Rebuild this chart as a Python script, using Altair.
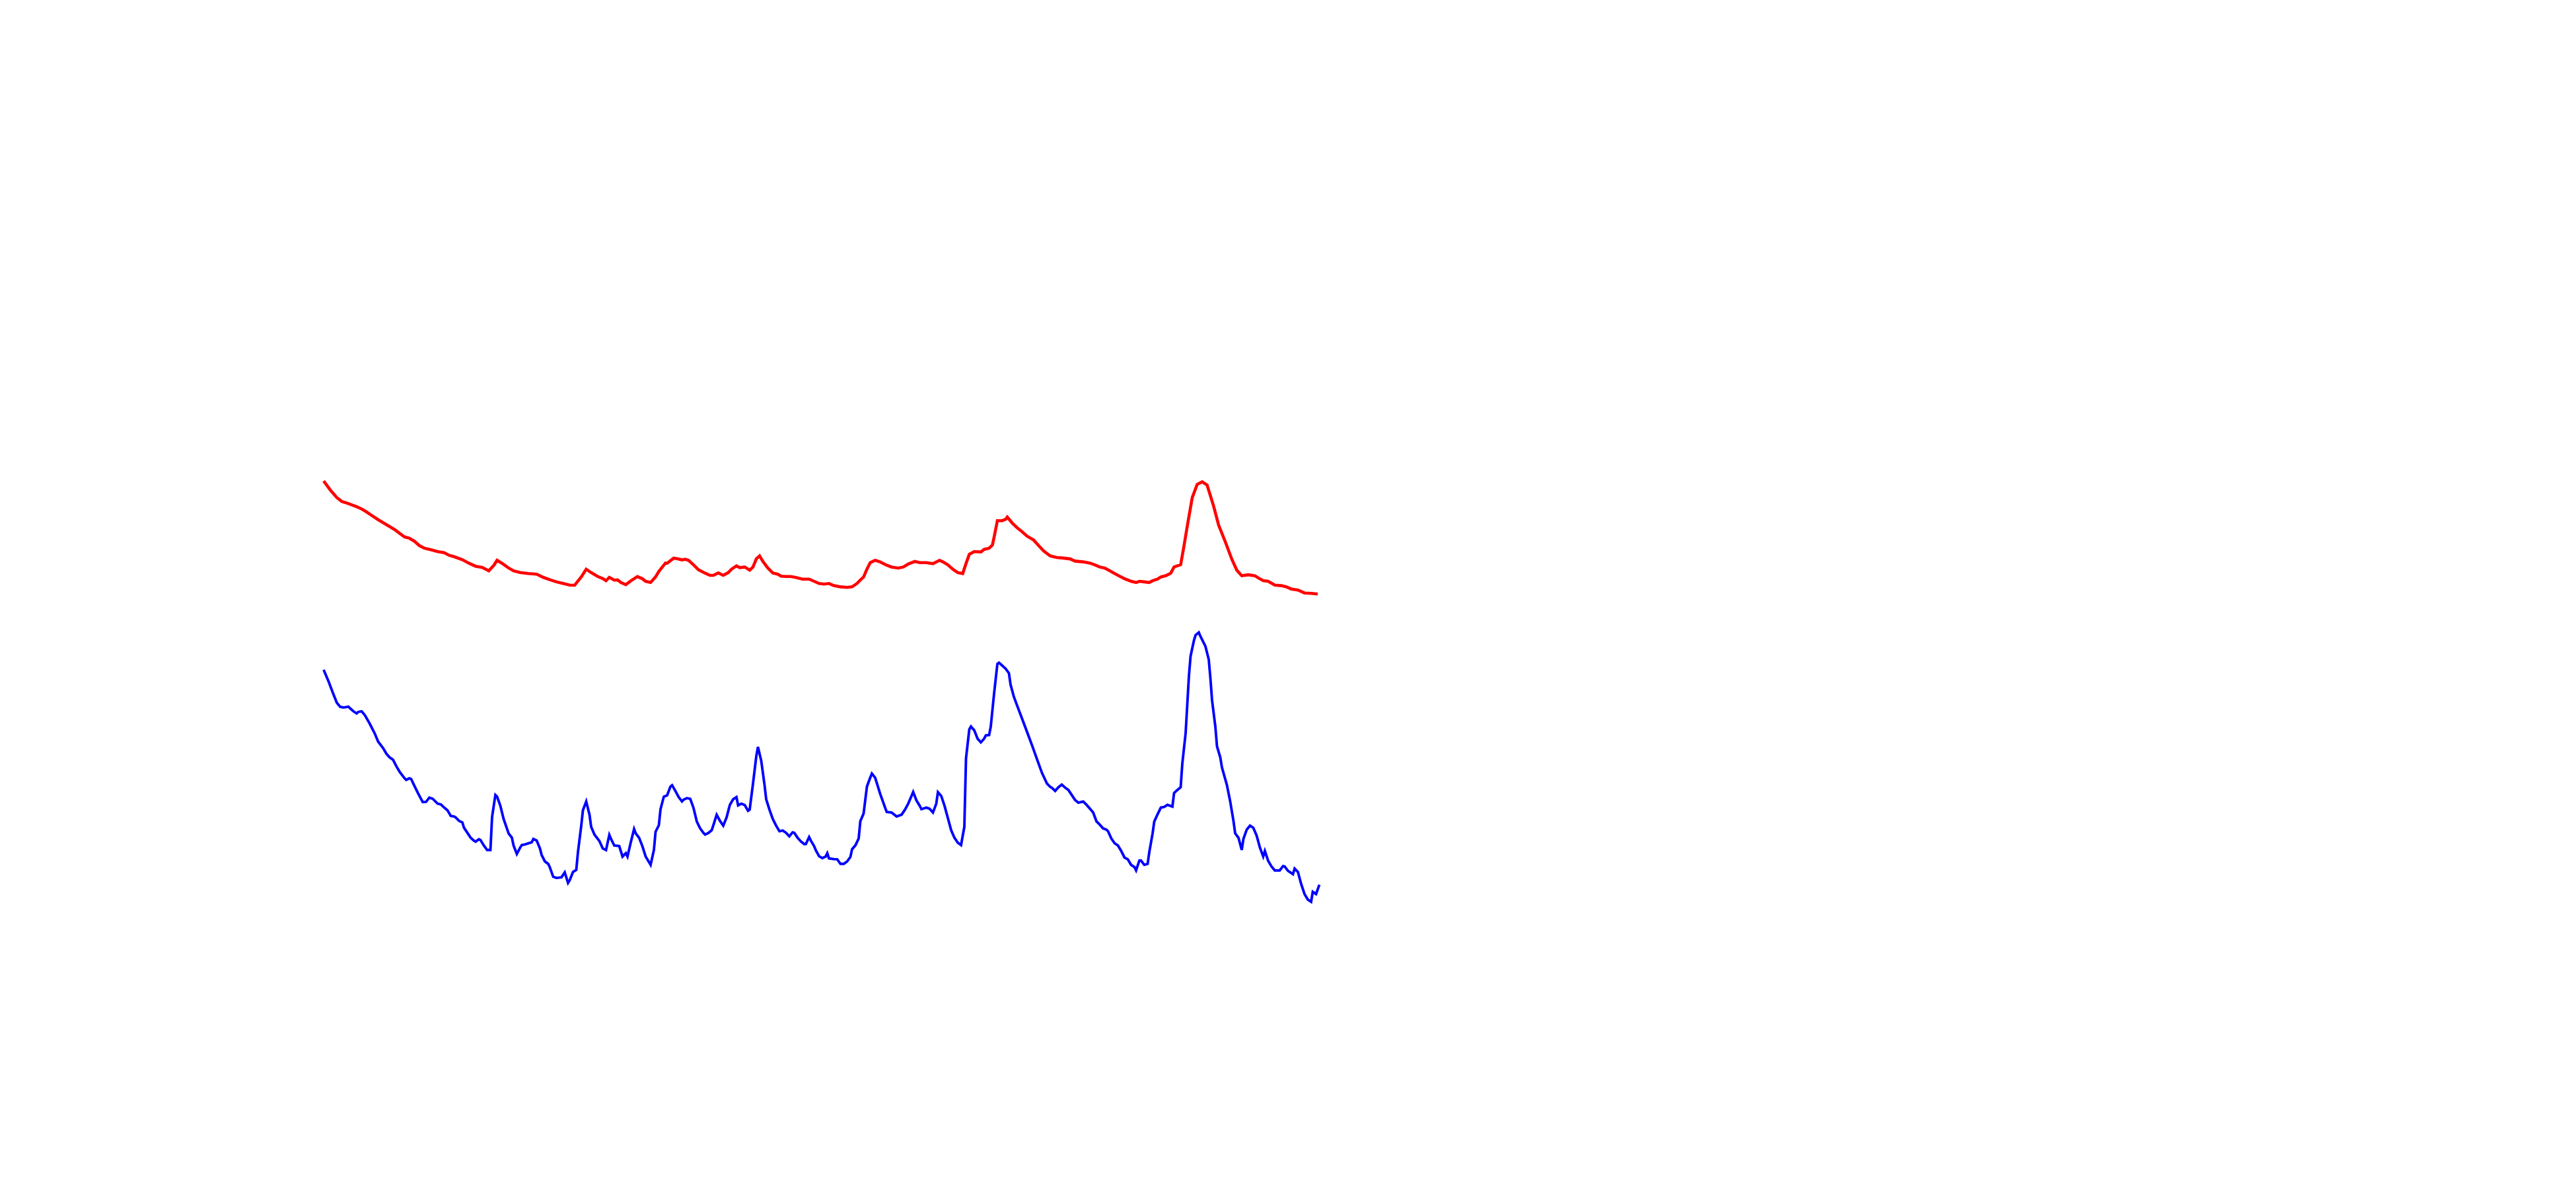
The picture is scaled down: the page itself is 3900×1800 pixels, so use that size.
import altair as alt
import pandas as pd

# time index (steps) and values
red_t = [0,4,8,11,15,20,23,26,29,33,37,40,43,46,49,52,55,58,61,65,69,73,76,79,84,88,92,96,100,103,105,108,112,115,119,124,129,133,137,141,145,149,152,156,159,162,166,169,171,173,176,178,180,183,186,190,193,195,198,201,203,207,208,212,214,217,219,221,224,227,231,234,236,239,242,245,247,250,252,255,258,260,262,
         264,266,269,272,275,277,280,283,286,290,294,297,300,303,306,309,313,317,320,323,325,327,329,331,334,337,341,344,348,351,354,358,361,365,369,373,375,378,381,384,387,389,391,394,398,400,403,405,406,408,411,413,414,417,420,423,426,430,433,436,440,444,448,452,455,460,464,467,470,473,476,479,482,485,489,492,494,497,500,502,505,507,510,
         513,515,519,521,523,526,529,532,535,539,542,546,550,553,556,560,564,566,569,572,576,580,583,586,590,594,598,602]
red_v = [230.6,226.1,222.2,220.3,219.2,217.6,216.5,215,213.3,211.1,209.1,207.6,206.1,204.2,202.4,201.7,200.2,198,196.7,195.9,195,194.4,193.1,192.4,190.9,189.1,187.6,187,185.3,188,190.6,189.1,186.7,185.3,184.4,183.9,183.6,182,180.8,179.7,178.9,178.1,178,182.2,186.1,184.4,182.4,181.4,180.3,182,180.6,180.7,179.4,178.3,180.2,182.4,181.3,180,179.4,182.2,185,189.2,189.1,191.7,191.4,190.8,191.1,190.6,188.3,185.8,184.1,183,183,184.2,183,184.4,186.1,187.8,186.9,187.2,185.6,187.2,191.3,
         192.8,190,186.7,184.2,183.6,182.6,182.4,182.4,181.9,181.1,181.1,180,178.9,178.6,178.9,177.8,177.2,176.9,177.2,178.9,180.6,182.2,186.1,189.4,190.6,189.8,188.1,187.2,186.7,187.2,188.7,190,189.4,189.4,188.9,190.6,189.8,188.3,186.1,184.4,183.9,188.9,193.6,195,194.8,196.1,196.7,198.3,202.2,210.6,210.6,211.3,212.4,209.4,207,205,202.8,200.8,198,195.3,192.8,192,191.7,191.3,190.2,189.8,189.2,188.3,187.2,186.7,185.3,183.9,182.6,181.3,180,179.4,180,179.7,179.4,180.3,181.1,182.2,182.8,
         184.1,187.2,188.4,197.8,207.8,222.2,228.9,230.2,228.6,217.8,208.3,200,191.1,185.6,182.8,183.3,182.8,181.7,180.3,180,178.1,177.8,177.2,176.1,175.6,174.1,173.9,173.6]

blue_t = [0,3,6,8,10,12,15,16,18,20,21,23,25,28,31,33,36,38,40,42,44,46,49,50,52,53,55,57,58,60,62,64,66,69,71,73,75,77,79,80,82,84,85,87,89,91,92,94,95,97,99,101,102,104,105,107,109,111,112,114,115,117,119,120,122,124,126,127,129,131,132,134,136,137,139,141,144,146,148,149,151,153,154,156,157,159,161,162,164,167,169,171,173,174,176,179,181,183,184,186,188,189,191,193,195,197,198,200,201,203,204,206,208,210,211,213,215,217,218,220,222,224,226,228,230,231,233,235,236,238,240,242,244,246,248,250,251,253,255,257,258,260,262,263,265,267,268,270,272,274,276,278,280,282,284,285,287,289,291,292,294,295,
          297,298,300,302,304,305,306,309,311,313,315,317,319,320,322,324,325,327,329,331,332,334,337,340,341,344,347,350,352,354,356,357,359,361,362,365,367,369,371,372,374,376,378,380,382,384,386,388,389,391,392,394,396,398,400,401,403,404,406,408,409,411,413,415,416,418,420,423,426,429,432,435,438,440,441,443,445,447,449,451,453,455,457,460,462,464,466,468,470,472,474,475,477,479,481,483,485,487,489,491,492,494,495,497,499,500,502,503,505,507,509,511,514,515,517,519,
          520,522,523,524,525,527,528,530,531,534,536,537,538,540,541,543,544,547,549,551,552,554,556,557,559,561,563,565,567,569,570,572,574,576,579,581,582,584,587,588,590,592,594,596,598,599,601,603]
blue_v = [135.3,129.4,122.8,118.7,116.7,116.3,116.7,115.9,114.4,113.3,114.1,114.4,112.4,108,103.1,99.1,95.8,93,91.1,90,86.7,83.9,80.6,79.8,80.6,80.2,76.7,73.3,71.7,68.6,68.7,70.8,70.3,67.8,67.4,65.8,64.4,61.6,61.3,60.8,59.1,58.3,55.6,53.1,50.6,49.1,48.6,49.8,49.4,46.7,44.4,44.4,61.1,72.2,71.4,66.7,60,55.2,52.8,50.6,46.7,42.4,45.6,46.9,47.2,47.8,48.3,50,49.2,45.2,41.9,38.6,37.4,35.6,30.9,30.3,30.6,33.1,27.8,29.1,33.3,34.4,43.3,56.7,64.4,68.9,62.2,56.1,52.2,48.9,45.2,44.4,52,50,46.7,46.4,41.1,42.8,41.1,48.3,55,52.8,50.6,46.4,41.1,38.3,36.9,44.4,53.6,56.9,65,71.3,72,76.4,77.1,74.2,71.1,68.9,69.8,70.6,70.2,65.6,58.7,55.3,53,52.2,53,54.4,56.9,62.2,59.1,56.7,60.8,67.2,70,71.1,66.9,67.8,67.1,64.2,64.8,77.8,91.7,96.4,89.4,77.2,70,64.7,60,56.7,53.9,54.2,53.1,51.3,53.3,53.1,50.6,48.7,47.4,47.4,50.9,49.2,
          46.4,44.4,41.3,40.3,41.1,42.8,40.2,39.8,39.7,37.4,37.4,38.6,40.9,44.8,46.7,50.2,58.9,62.8,76.4,80.9,83,80.9,72.8,65.8,63.6,63.3,61.3,62.2,64.7,67.8,71.7,73.7,69.4,66.7,65,65.8,65.2,63.3,67.8,73.6,71.7,66.7,60.6,54.4,50.6,48.1,46.9,56.1,90.6,105.3,106.7,104.8,100.6,98.7,100.6,102.2,102.4,106.7,123.3,138.3,138.9,137.4,135.9,133.6,127.8,121.7,117.2,110.6,103.9,97.2,90.2,83.3,78,76.3,75.8,74.2,76.1,77.4,75.9,74.7,72.2,69.7,68.3,68.9,67.2,65.3,63.3,58.9,57.2,55.3,54.7,53.9,50.2,47.8,46.7,43.9,40.6,39.7,36.9,35.8,34.1,39.1,39.1,36.9,37.4,43.3,52.8,58.7,62.4,65.8,66.1,67.2,66.3,73.1,74.7,76.1,
          88,103.3,117.8,132.2,142.2,150,152.8,154.2,152.2,147.2,140.6,131.1,120,106.7,96.7,91.1,86.1,77.2,68.9,58.9,52.8,50.6,44.4,50,54.7,56.7,55.6,51.7,45.6,41.1,43.9,38.9,36.1,34.1,34.1,36.3,36.1,33.9,32.2,35,33.3,27.2,22.2,19.4,18.3,23.3,22.2,26.9]

red_df = pd.DataFrame({"t": red_t, "v": red_v})
blue_df = pd.DataFrame({"t": blue_t, "v": blue_v})

xs = alt.Scale(domain=[-192.8, 1360.8], nice=False, zero=False)
ys = alt.Scale(domain=[-124, 470.67], nice=False, zero=False)

red = alt.Chart(red_df).mark_line(color="#ff0000", strokeWidth=4.6).encode(
    x=alt.X("t:Q", scale=xs, axis=None),
    y=alt.Y("v:Q", scale=ys, axis=None),
)
blue = alt.Chart(blue_df).mark_line(color="#0000ff", strokeWidth=3.9).encode(
    x=alt.X("t:Q", scale=xs, axis=None),
    y=alt.Y("v:Q", scale=ys, axis=None),
)

chart = alt.layer(red, blue).properties(
    width=3884, height=1784, padding=0, autosize="none", background="white"
).configure_view(strokeWidth=0)

chart.save("out.html", embed_options={"renderer": "svg", "actions": False})
